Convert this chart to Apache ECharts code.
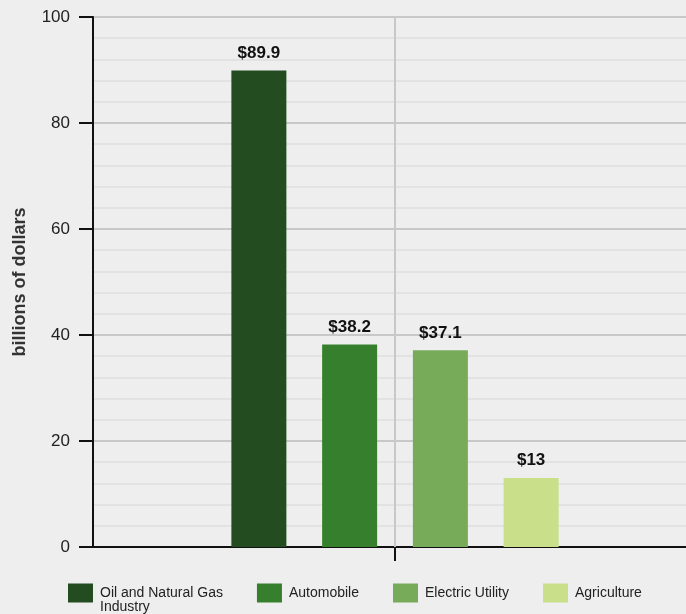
<!DOCTYPE html>
<html lang="en">
<head>
    <meta charset="UTF-8"/>
    <title>billions of dollars</title>
    <script src="https://cdn.jsdelivr.net/npm/echarts@6/dist/echarts.min.js"></script>
    <style>
        html, body { margin: 0; padding: 0; background: #eeeeee; overflow: hidden; }
    </style>
</head>
<body>
<!-- a bit wider than the window: the right end of the x axis is cut off like the original -->
<div id="main" style="width: 697px;height:614px;"></div>

<script type="text/javascript">
    // data
    var categories = ['total'];
    var seriesNames = ['Oil and Natural Gas Industry', 'Automobile', 'Electric Utility', 'Agriculture'];
    var seriesValues = [89.9, 38.2, 37.1, 13];
    var colors = ['#234d20', '#36802d', '#77ab59', '#c9df8a'];
    var yTicks = [0, 20, 40, 60, 80, 100];

    var font = 'Liberation Sans, Arial, Helvetica, sans-serif';
    var myChart = echarts.init(document.getElementById('main'));

    var series = seriesNames.map(function (name, i) {
        return {
            name: name,
            type: 'bar',
            data: [seriesValues[i]],
            barWidth: 55,
            barGap: '65%',
            itemStyle: { color: colors[i] },
            z: 3,
            label: {
                show: true,
                position: 'top',
                distance: 9,
                fontFamily: font,
                fontWeight: 'bold',
                fontSize: 17,
                color: '#111',
                formatter: function (p) { return '$' + p.value; }
            }
        };
    });
    // vertical line at the category centre
    series.push({
        name: 'centre',
        type: 'line',
        data: [],
        silent: true,
        markLine: {
            silent: true,
            symbol: 'none',
            animation: false,
            label: { show: false },
            lineStyle: { color: '#c8c8c8', width: 2, type: 'solid' },
            data: [{ xAxis: 0 }]
        },
        z: 1
    });

    var option = {
        backgroundColor: '#eeeeee',
        animation: false,
        grid: { left: 93, top: 17, right: 0, bottom: 67, containLabel: false },
        legend: {
            left: 68,
            top: 570,
            padding: 0,
            icon: 'rect',
            itemWidth: 25,
            itemHeight: 19,
            itemGap: 34,
            textStyle: { fontFamily: font, fontSize: 14, lineHeight: 14, color: '#222', padding: [4, 0, 0, 2] },
            formatter: function (name) {
                // the long name wraps below its first line, as in the original
                if (name === 'Oil and Natural Gas Industry') {
                    return ' \nOil and Natural Gas\nIndustry';
                }
                return name;
            },
            data: seriesNames
        },
        xAxis: {
            type: 'category',
            data: categories,
            axisLine: { lineStyle: { color: '#111', width: 2 } },
            axisTick: { show: true, alignWithLabel: true, length: 14, lineStyle: { color: '#111', width: 2 } },
            axisLabel: { show: false },
            splitLine: { show: false }
        },
        yAxis: {
            type: 'value',
            min: yTicks[0],
            max: yTicks[yTicks.length - 1],
            interval: 20,
            name: 'billions of dollars',
            nameLocation: 'middle',
            nameGap: 64,
            nameTextStyle: { fontFamily: font, fontWeight: 'bold', fontSize: 18, color: '#333' },
            axisLine: { show: true, lineStyle: { color: '#111', width: 2 } },
            axisTick: { show: true, length: 14, lineStyle: { color: '#111', width: 2 } },
            axisLabel: { margin: 23, fontFamily: font, fontSize: 17, color: '#222' },
            splitLine: { show: true, lineStyle: { color: '#c8c8c8', width: 2 } },
            minorTick: { show: false, splitNumber: 5 },
            minorSplitLine: { show: true, lineStyle: { color: '#e2e2e2', width: 2 } }
        },
        series: series
    };

    myChart.setOption(option);
</script>

</body>
</html>
